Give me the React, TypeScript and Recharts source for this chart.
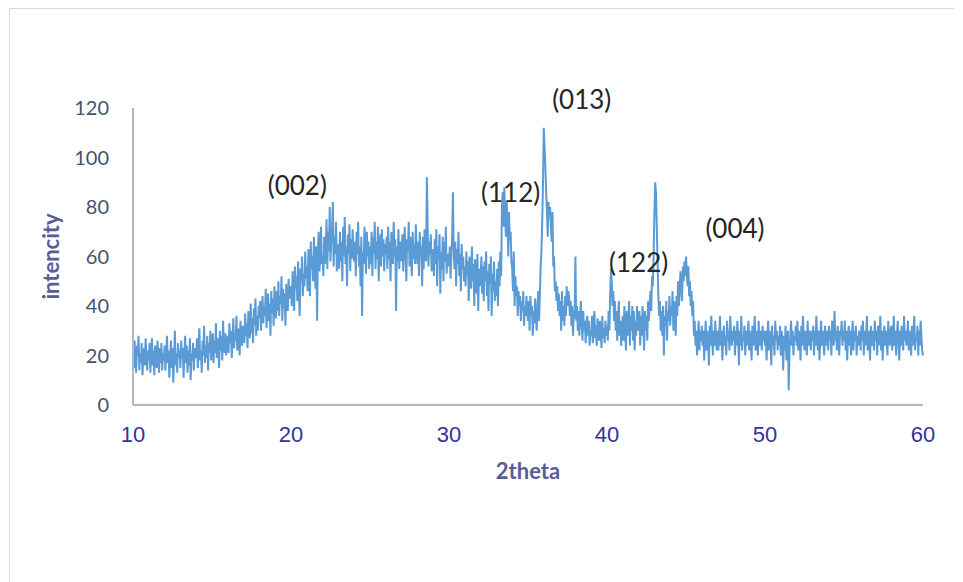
import React from "react";
import { LineChart, Line, XAxis, YAxis, ReferenceDot } from "recharts";

// intensity readings, one every 0.05 deg 2theta, one row per degree
const from10 = [
  22, 15, 26, 18, 13, 24, 20, 28, 14, 21, 17, 25, 12, 19, 23, 16, 27, 20, 14, 22,
  18, 25, 13, 21, 27, 16, 22, 12, 24, 19, 15, 26, 20, 13, 23, 17, 25, 14, 21, 18,
  24, 14, 20, 28, 17, 22, 11, 19, 26, 15, 23, 9, 18, 30, 16, 21, 13, 25, 19, 22,
  15, 26, 19, 23, 11, 20, 28, 17, 24, 13, 22, 16, 27, 10, 21, 18, 25, 14, 23, 19,
  20, 27, 15, 24, 31, 18, 22, 13, 26, 20, 32, 17, 24, 19, 28, 14, 25, 21, 30, 18,
  23, 29, 17, 26, 21, 33, 19, 27, 24, 15, 30, 22, 28, 18, 34, 25, 21, 29, 20, 26,
  28, 21, 33, 25, 30, 19, 27, 35, 23, 29, 26, 36, 22, 31, 27, 20, 34, 28, 24, 32,
  30, 25, 37, 28, 33, 23, 38, 31, 27, 41, 29, 35, 25, 39, 32, 43, 28, 36, 30, 40,
  35, 42, 30, 38, 44, 33, 40, 36, 47, 31, 39, 45, 34, 41, 28, 46, 37, 43, 32, 48,
  40, 35, 46, 38, 50, 36, 44, 41, 52, 34, 47, 39, 45, 32, 49, 42, 38, 51, 43, 46,
];
const from20 = [
  48, 40, 54, 45, 38, 56, 47, 52, 42, 58, 46, 36, 55, 50, 60, 44, 53, 48, 62, 51,
  56, 46, 63, 52, 44, 66, 55, 60, 50, 68, 58, 47, 64, 34, 62, 70, 54, 59, 72, 57,
  60, 52, 68, 57, 64, 75, 55, 70, 62, 80, 58, 66, 72, 82, 56, 68, 61, 74, 54, 65,
  62, 55, 70, 58, 66, 50, 72, 60, 76, 57, 64, 48, 69, 61, 73, 54, 67, 59, 71, 63,
  58, 66, 52, 70, 61, 74, 56, 64, 48, 68, 36, 62, 57, 72, 65, 53, 70, 60, 66, 55,
  64, 57, 70, 52, 68, 61, 74, 55, 66, 59, 72, 50, 63, 69, 56, 71, 60, 67, 54, 65,
  61, 68, 55, 72, 59, 66, 50, 70, 63, 57, 74, 60, 67, 38, 64, 58, 71, 55, 66, 62,
  58, 69, 54, 65, 72, 60, 50, 67, 62, 74, 56, 68, 61, 52, 70, 59, 65, 57, 73, 63,
  57, 66, 52, 70, 60, 64, 48, 68, 55, 71, 62, 58, 92, 72, 56, 66, 61, 69, 54, 63,
  60, 52, 67, 57, 71, 48, 64, 59, 69, 45, 62, 55, 68, 50, 66, 58, 72, 53, 61, 56,
];
const from30 = [
  58, 64, 51, 62, 68, 86, 60, 55, 66, 48, 63, 57, 70, 52, 61, 46, 65, 55, 60, 50,
  56, 48, 62, 52, 58, 42, 60, 54, 47, 64, 50, 57, 40, 59, 52, 45, 61, 38, 55, 48,
  52, 60, 45, 56, 42, 58, 50, 62, 44, 54, 38, 57, 49, 60, 36, 53, 46, 58, 42, 50,
  44, 55, 40, 58, 48, 62, 52, 80, 86, 72, 88, 78, 68, 82, 74, 60, 78, 66, 70, 58,
  55, 46, 62, 40, 52, 44, 48, 36, 46, 40, 44, 34, 42, 38, 46, 32, 40, 36, 44, 38,
  34, 42, 30, 44, 36, 40, 28, 38, 33, 43, 36, 30, 40, 46, 34, 44, 56, 62, 74, 90,
  112, 104, 96, 86, 78, 68, 82, 76, 80, 72, 66, 78, 56, 60, 46, 50, 42, 48, 38, 45,
  36, 42, 30, 46, 34, 40, 32, 44, 36, 48, 40, 46, 44, 36, 42, 32, 40, 28, 38, 35,
  60, 34, 40, 30, 38, 28, 36, 42, 32, 26, 38, 30, 34, 25, 32, 36, 28, 34, 24, 30,
  28, 36, 25, 33, 38, 27, 32, 24, 35, 29, 26, 34, 30, 23, 36, 27, 31, 25, 34, 28,
];
const from40 = [
  32, 26, 38, 30, 44, 55, 50, 40, 46, 34, 42, 30, 38, 26, 36, 42, 28, 34, 24, 32,
  36, 26, 40, 30, 22, 38, 28, 34, 42, 24, 36, 30, 40, 26, 38, 22, 34, 28, 40, 32,
  30, 38, 24, 36, 28, 40, 32, 22, 38, 30, 36, 26, 42, 34, 40, 46, 38, 52, 48, 60,
  78, 90, 86, 72, 58, 44, 36, 42, 30, 38, 28, 40, 20, 36, 32, 42, 26, 38, 34, 44,
  32, 40, 36, 46, 30, 42, 38, 28, 44, 36, 50, 40, 46, 54, 48, 42, 56, 50, 58, 52,
  60, 54, 48, 56, 44, 50, 40, 46, 36, 42, 28, 34, 24, 30, 20, 28, 34, 22, 30, 26,
  32, 24, 30, 18, 28, 34, 22, 30, 26, 16, 32, 24, 36, 28, 20, 30, 24, 34, 26, 22,
  30, 22, 28, 36, 24, 30, 18, 26, 32, 24, 28, 20, 34, 26, 30, 22, 36, 28, 24, 30,
  26, 32, 20, 30, 24, 34, 28, 16, 30, 24, 36, 22, 28, 26, 32, 20, 30, 24, 28, 34,
  22, 30, 26, 18, 32, 24, 28, 36, 22, 30, 26, 20, 34, 24, 30, 28, 22, 32, 26, 30,
];
const from50 = [
  24, 30, 18, 28, 34, 22, 30, 26, 16, 32, 24, 28, 20, 34, 26, 30, 22, 28, 24, 32,
  20, 30, 26, 14, 28, 22, 32, 18, 26, 30, 6, 22, 28, 34, 24, 30, 20, 28, 26, 32,
  24, 34, 22, 30, 26, 18, 32, 24, 36, 28, 22, 30, 26, 20, 34, 24, 30, 28, 22, 30,
  26, 32, 20, 30, 24, 36, 28, 22, 30, 18, 28, 34, 24, 30, 26, 20, 32, 24, 30, 28,
  22, 32, 26, 30, 20, 34, 28, 24, 38, 26, 30, 22, 32, 26, 20, 30, 28, 34, 24, 30,
  26, 34, 22, 30, 18, 28, 32, 24, 30, 20, 28, 34, 22, 30, 26, 32, 20, 28, 24, 30,
  28, 22, 32, 26, 34, 20, 30, 24, 28, 36, 22, 30, 26, 18, 32, 24, 30, 28, 22, 34,
  26, 30, 20, 32, 24, 28, 36, 22, 30, 18, 28, 32, 24, 30, 26, 20, 34, 28, 24, 30,
  32, 22, 28, 36, 24, 30, 20, 28, 34, 26, 18, 30, 24, 32, 28, 22, 36, 26, 30, 24,
  28, 34, 22, 30, 26, 20, 32, 24, 30, 36, 22, 28, 26, 32, 20, 30, 24, 34, 28, 22,
  20,
];

const xTicks = [10, 20, 30, 40, 50, 60];
const yTicks = [0, 20, 40, 60, 80, 100, 120];

// peak labels: [text, 2theta, intensity]
const peaks: [string, number, number][] = [
  ["(002)", 20.4, 88.5],
  ["(112)", 33.9, 85.7],
  ["(013)", 38.4, 123.2],
  ["(122)", 42.0, 57.4],
  ["(004)", 48.1, 71.1],
];

const intensity = [...from10, ...from20, ...from30, ...from40, ...from50];
const data = intensity.map((v, i) => ({ theta: 10 + i / 20, v }));

const titleStyle = { fontSize: 22, fontWeight: 700, fill: "#5b5b98", fontFamily: "Lato" };

export default function App() {
  return (
    <div style={{ width: 946, height: 600, border: "1px solid #d9d9d9", marginLeft: 1, overflow: "hidden" }}>
      <LineChart
        width={946}
        height={573}
        data={data}
        margin={{ top: 99, right: 33, left: 63, bottom: 147 }}
      >
        <XAxis
          dataKey="theta"
          type="number"
          domain={[10, 60]}
          ticks={xTicks}
          height={30}
          tickLine={false}
          tickMargin={15}
          axisLine={{ stroke: "#adb9ca", strokeWidth: 2 }}
          tick={{ fontSize: 22, fill: "#333399", fontFamily: "Liberation Sans" }}
          label={{ value: "2theta", position: "insideBottom", offset: -44, style: titleStyle }}
        />
        <YAxis
          type="number"
          domain={[0, 120]}
          ticks={yTicks}
          width={60}
          tickLine={false}
          tickMargin={18}
          axisLine={{ stroke: "#adb9ca", strokeWidth: 2 }}
          tick={{ fontSize: 20, fill: "#44546a", fontFamily: "Lato" }}
          label={{
            value: "intencity",
            angle: -90,
            position: "insideLeft",
            offset: -22,
            style: { ...titleStyle, textAnchor: "middle" },
          }}
        />
        <Line
          type="linear"
          dataKey="v"
          stroke="#5b9bd5"
          strokeWidth={2}
          dot={false}
          isAnimationActive={false}
        />
        {peaks.map(([t, x, y]) => (
          <ReferenceDot
            key={t}
            x={x}
            y={y}
            r={0}
            ifOverflow="visible"
            label={{ value: t, position: "center", fontSize: 26, fill: "#262626", fontFamily: "Lato" }}
          />
        ))}
      </LineChart>
    </div>
  );
}
